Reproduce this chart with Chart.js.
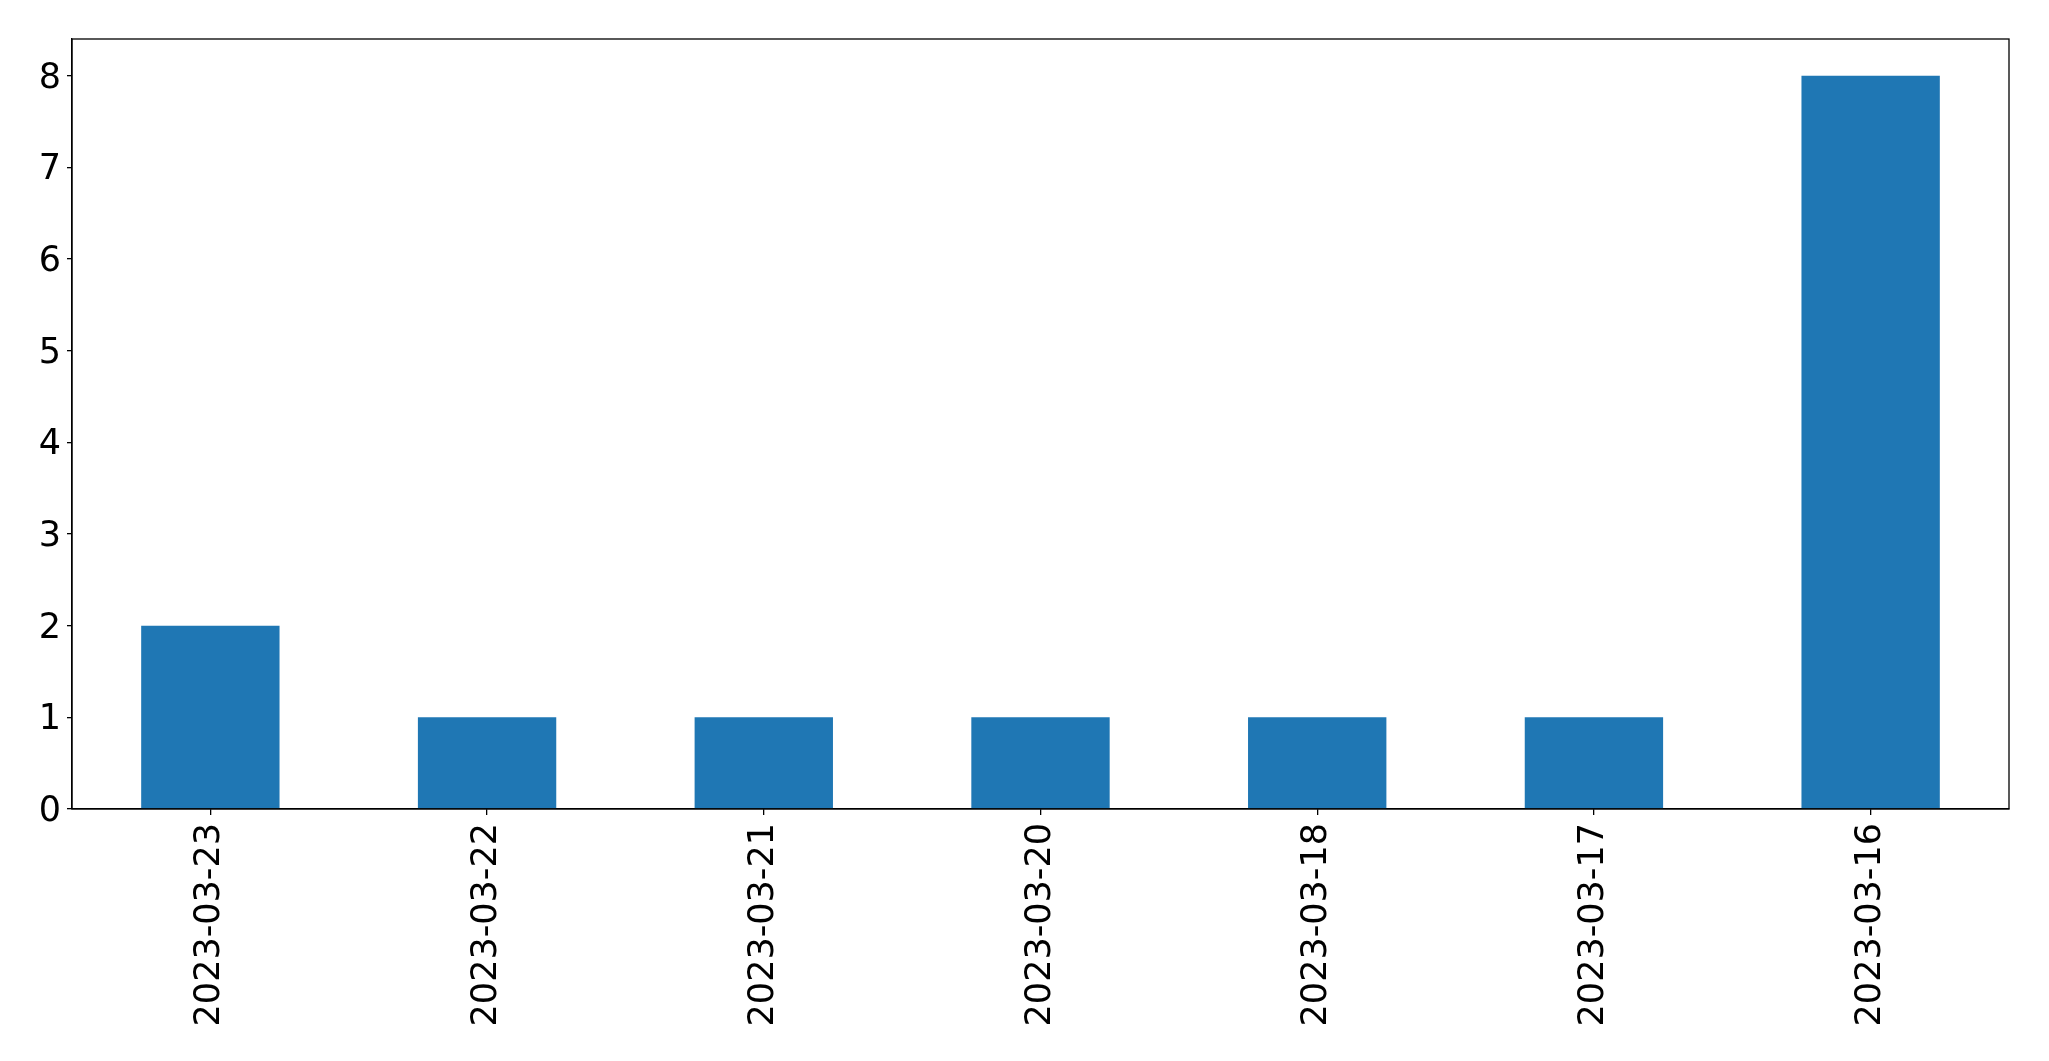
<!DOCTYPE html>
<html>
<head>
<meta charset="utf-8">
<script src="https://cdn.jsdelivr.net/npm/chart.js@4/dist/chart.umd.min.js"></script>
<style>
  html, body { margin: 0; padding: 0; background: #fff; }
  #wrap { width: 2049px; height: 1061px; }
</style>
</head>
<body>
<div id="wrap"><canvas id="myChart" width="2049" height="1061"></canvas></div>
<script>
// dates and counts
const dates = ['2023-03-23', '2023-03-22', '2023-03-21', '2023-03-20', '2023-03-18', '2023-03-17', '2023-03-16'];
const counts = [2, 1, 1, 1, 1, 1, 8];
const yTicks = [0, 1, 2, 3, 4, 5, 6, 7, 8];

// draws the top and right edges of the frame
const frameBox = {
  id: 'frameBox',
  afterDraw(chart) {
    const a = chart.chartArea;
    const ctx = chart.ctx;
    ctx.save();
    ctx.strokeStyle = '#000';
    ctx.lineWidth = 1.3;
    ctx.strokeRect(a.left, a.top, a.right - a.left, a.bottom - a.top);
    ctx.restore();
  }
};

function createChart() {
  var ctx = document.getElementById('myChart').getContext('2d');
  new Chart(ctx, {
    type: 'bar',
    data: {
      labels: dates,
      datasets: [{
        data: counts,
        backgroundColor: '#1f77b4',
        borderWidth: 0,
        barPercentage: 0.5,
        categoryPercentage: 1.0
      }]
    },
    options: {
      responsive: false,
      animation: false,
      layout: { padding: { left: 0, top: 39, right: 40, bottom: 0 } },
      plugins: { legend: { display: false }, tooltip: { enabled: false } },
      scales: {
        x: {
          grid: { display: true, offset: false, drawOnChartArea: false, drawTicks: true, tickLength: 6, color: '#000', lineWidth: 1.3 },
          border: { display: true, color: '#000', width: 1.3 },
          ticks: {
            color: '#000',
            font: { family: 'DejaVu Sans', size: 35 },
            minRotation: 90,
            maxRotation: 90,
            padding: 8,
            autoSkip: false
          },
          afterFit(scale) { scale.height = 252; }
        },
        y: {
          min: 0,
          max: 8.4,
          grid: { display: true, drawOnChartArea: false, drawTicks: true, tickLength: 5, color: '#000', lineWidth: 1.3 },
          border: { display: true, color: '#000', width: 1.3 },
          ticks: {
            color: '#000',
            font: { family: 'DejaVu Sans', size: 35 },
            padding: 6,
            labelOffset: 3
          },
          afterBuildTicks(scale) {
            scale.ticks = yTicks.map(v => ({ value: v }));
          },
          afterFit(scale) { scale.width = 72; }
        }
      }
    },
    plugins: [frameBox]
  });
}

createChart();
</script>
</body>
</html>
